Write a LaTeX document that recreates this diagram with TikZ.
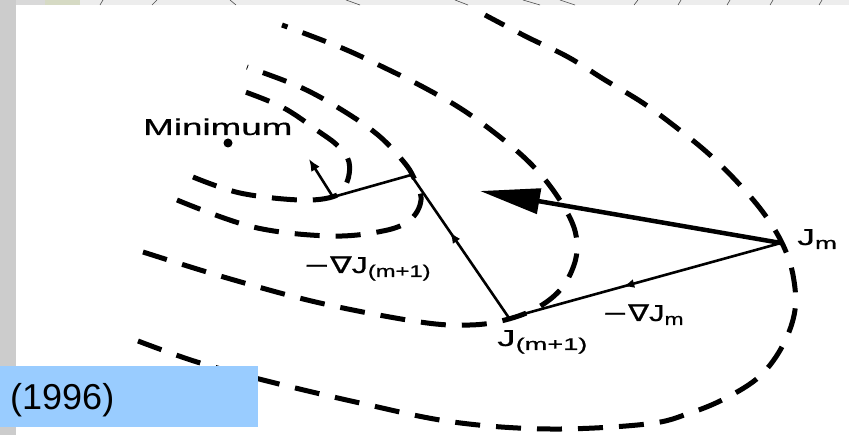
\documentclass[tikz,border=0pt]{standalone}
\usepackage{fontspec}
\setmainfont{Liberation Sans}
\newfontfamily\figfont{Liberation Sans}[FakeBold=0.5]
\newfontfamily\dejavu{DejaVu Sans}[FakeBold=0.5]
\usetikzlibrary{arrows.meta,decorations.markings}
\newcommand\lowsub[1]{\raisebox{-4pt}{\fontsize{17}{17}\selectfont #1}}
\definecolor{leftgray}{HTML}{CCCCCC}
\definecolor{topgray}{HTML}{EDEDED}
\definecolor{topgray2}{HTML}{D9D9D9}
\definecolor{olivetint}{HTML}{D6DAC4}
\definecolor{boxblue}{HTML}{99CCFF}
\begin{document}
\begin{tikzpicture}[x=1pt,y=-1pt,
  contour/.style={line width=5pt, dash pattern=on 25pt off 16pt},
  stepline/.style={line width=2.6pt, line join=miter},
  midarrow/.style={postaction={decorate},decoration={markings,
     mark=at position #1 with {\arrow{Latex[length=11pt,width=9pt]}}}},
  lbl/.style={inner sep=0pt, anchor=base west, font=\figfont\fontsize{23}{23}\selectfont},
  topline/.style={draw=black!70, line width=0.6pt}]
\useasboundingbox (0,0) rectangle (849,435);
% frame / slide remnants
\fill[white] (0,0) rectangle (849,435);
\fill[topgray] (16,0) rectangle (849,5);
\fill[topgray2] (16,0) rectangle (45,5);
\fill[olivetint] (45,0) rectangle (80,5);
\fill[leftgray] (0,0) rectangle (16,435);
\foreach \a/\b in {103/100,157/152,230/236,346/360,455/468,523/540,560/575,638/634,681/678,730/727,773/770,822/819}
  \draw[topline] (\a,0) -- (\b,5);
% contour lines
\draw[contour] plot[smooth, tension=0.6] coordinates {(193,177) (240,193) (300,200) (335,196) (347,182) (349,162) (338,146) (318,131) (282,107) (237,89)};
\draw[contour] plot[smooth, tension=0.6] coordinates {(177,200) (253,227) (330,236) (383,231) (410,220) (421,200) (414,178) (403,161) (378,135) (342,110) (300,87) (247,67)};
\draw[contour] plot[smooth, tension=0.6] coordinates {(143,252) (227,278) (320,303) (420,322) (470,325) (505,320) (537,308) (561,289) (574,265) (577,243) (571,220) (553,190) (530,163) (500,137) (463,110) (425,88) (385,68) (342,48) (282,25)};
\draw[contour] plot[smooth, tension=0.6] coordinates {(138,341) (197,362) (267,381) (360,403) (453,422) (550,429) (647,424) (690,413) (726,398) (760,376) (783,345) (795,310) (793,275) (783,245) (765,215) (740,185) (710,155) (677,128) (643,103) (605,80) (568,57) (527,37) (485,15)};
% points
\coordinate (Jm) at (781,243);
\coordinate (J1) at (509,318);
\coordinate (P2) at (411,175);
\coordinate (P3) at (333,197);
\coordinate (P4) at (309,159);
\coordinate (Tip) at (480,191);
\fill (228,143) circle (4.5) node (mindot) {};
% steps
\draw[stepline, midarrow=0.58] (Jm) -- (J1);
\draw[stepline, midarrow=0.6] (J1) -- (P2);
\draw[stepline] (P2) -- (P3);
\draw[stepline, -{Latex[length=12pt,width=10pt]}] (P3) -- (P4);
% big arrow
\draw[line width=4.5pt, -{Triangle[length=60pt,width=25pt]}] (Jm) -- (Tip);
% labels
\node[lbl] (minlbl) at (143,135) {\scalebox{1.6}[1]{Minimum}};
\node[lbl] (jmlbl) at (797,245) {\scalebox{1.55}[1]{J\lowsub{m}}};
\node[lbl] (j1lbl) at (497,346) {\scalebox{1.6}[1]{J\lowsub{(m+1)}}};
\node[lbl] (gjm) at (602,321) {\scalebox{1.35}[1]{{\dejavu −∇}J\lowsub{m}}};
\node[lbl] (gj1) at (303,273) {\scalebox{1.4}[1]{{\dejavu −∇}J\lowsub{(m+1)}}};
% caption box
\fill[boxblue] (0,366) rectangle (258,427);
\node[inner sep=0pt, anchor=base west, font=\fontsize{36}{36}\selectfont] (year) at (10,410) {(1996)};
\end{tikzpicture}
\end{document}
